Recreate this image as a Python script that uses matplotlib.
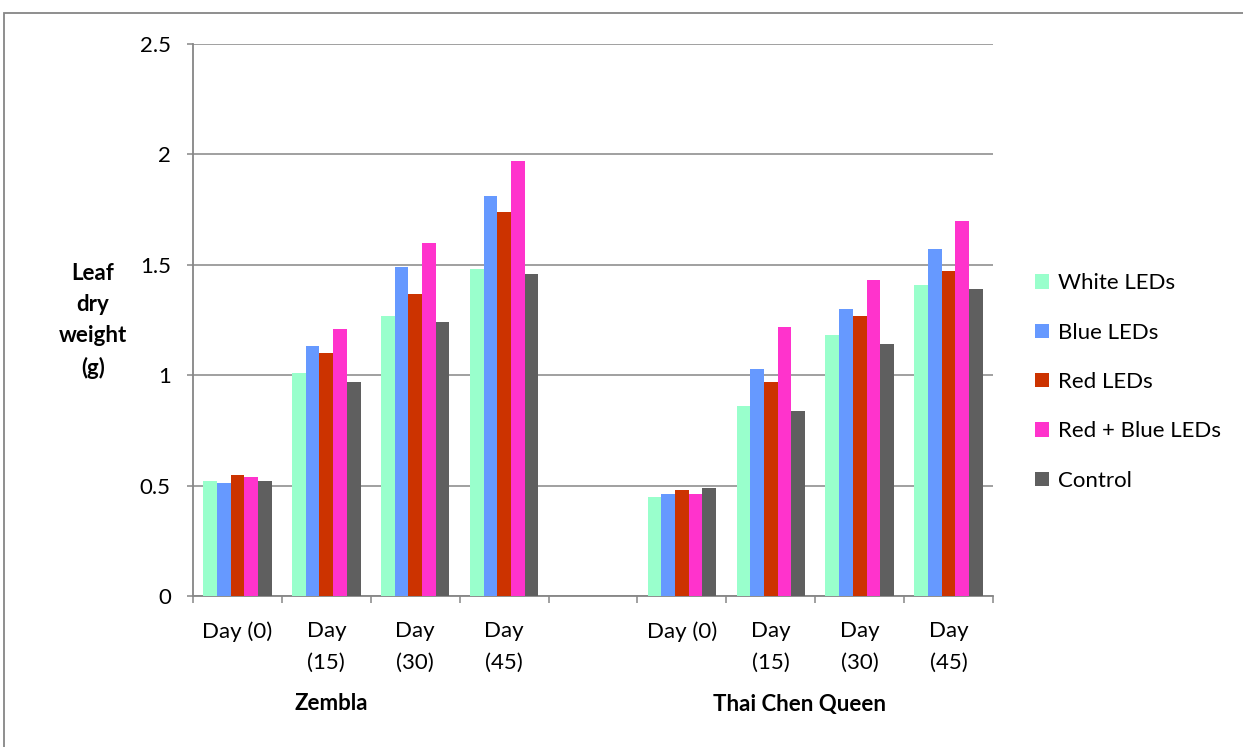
import matplotlib
matplotlib.use("Agg")
import matplotlib.pyplot as plt
import matplotlib.transforms as mtransforms
from matplotlib.patches import Rectangle
from matplotlib.ticker import FuncFormatter, FixedLocator

plt.rcParams['font.family'] = ['Lato', 'DejaVu Sans']

# Leaf dry weight (g) per sampling day, two cultivars
days = ["Day (0)", "Day\n(15)", "Day\n(30)", "Day\n(45)"]
cultivars = ["Zembla", "Thai Chen Queen"]
series_names = ["White LEDs", "Blue LEDs", "Red LEDs", "Red + Blue LEDs", "Control"]

white_leds = [0.52, 1.01, 1.27, 1.48, 0.45, 0.86, 1.18, 1.41]
blue_leds = [0.51, 1.13, 1.49, 1.81, 0.46, 1.03, 1.30, 1.57]
red_leds = [0.55, 1.10, 1.37, 1.74, 0.48, 0.97, 1.27, 1.47]
red_blue_leds = [0.54, 1.21, 1.60, 1.97, 0.46, 1.22, 1.43, 1.70]
control = [0.52, 0.97, 1.24, 1.46, 0.49, 0.84, 1.14, 1.39]

colors = ["#99FFCC", "#6699FF", "#CC3300", "#FF33CC", "#5F5F5F"]
grid_gray = "#868686"
FS = 16

W, H = 1243, 747
fig = plt.figure(figsize=(W / 100, H / 100), dpi=100)
ax = fig.add_axes([193 / W, 1 - 596 / H, 800 / W, 552 / H])

# category slots: four days per cultivar, with an empty slot between cultivars
slots = [0, 1, 2, 3, 5, 6, 7, 8]
all_series = [white_leds, blue_leds, red_leds, red_blue_leds, control]
bw = 0.154
for k, (vals, name, col) in enumerate(zip(all_series, series_names, colors)):
    xs = [s + (k - 2) * bw for s in slots]
    ax.bar(xs, vals, width=bw, color=col, label=name, linewidth=0, zorder=3)

ax.set_xlim(-0.5, 8.5)
ax.set_ylim(0, 2.5)

ax.set_yticks([0, 0.5, 1, 1.5, 2, 2.5])
ax.yaxis.set_major_formatter(FuncFormatter(lambda v, p: f"{v:g}"))
ax.grid(axis='y', color=grid_gray, linewidth=1.1, zorder=0)

ax.set_xticks(slots)
ax.set_xticklabels(days * 2)
ax.xaxis.set_minor_locator(FixedLocator([i - 0.5 for i in range(10)]))
ax.tick_params(axis='x', which='major', length=0, pad=18, labelsize=FS)
ax.tick_params(axis='x', which='minor', length=5, width=1.1, color=grid_gray, direction='out')
ax.tick_params(axis='y', which='major', length=4, width=1.1, color=grid_gray,
               pad=12, labelsize=FS)
for lbl in ax.get_xticklabels():
    lbl.set_linespacing(1.75)

for side in ("top", "right"):
    ax.spines[side].set_visible(False)
for side in ("left", "bottom"):
    ax.spines[side].set_color(grid_gray)
    ax.spines[side].set_linewidth(1.3)

# cultivar names beneath the day labels
trans = mtransforms.blended_transform_factory(ax.transData, fig.transFigure)
group_x = [1.06, 6.32]
for gx, name in zip(group_x, cultivars):
    ax.text(gx, 1 - 704 / H, name, transform=trans, ha='center', va='center',
            fontsize=FS, fontweight='bold')

fig.text(93 / W, 1 - 321 / H, "Leaf\ndry\nweight\n(g)", ha='center', va='center',
         fontsize=FS, fontweight='bold', linespacing=1.6)

fig.legend(loc='center left', bbox_to_anchor=(1035 / W, 1 - 382 / H),
           frameon=False, fontsize=FS, handlelength=0.62, handleheight=0.62,
           handletextpad=0.4, labelspacing=1.32, borderpad=0, borderaxespad=0)

# outer chart frame
fig.patches.append(Rectangle((4 / W, -0.1), 1.2, 1 - 13 / H + 0.1,
                             transform=fig.transFigure, fill=False,
                             edgecolor=grid_gray, linewidth=1.3))

fig.savefig("out.png", dpi=100)
